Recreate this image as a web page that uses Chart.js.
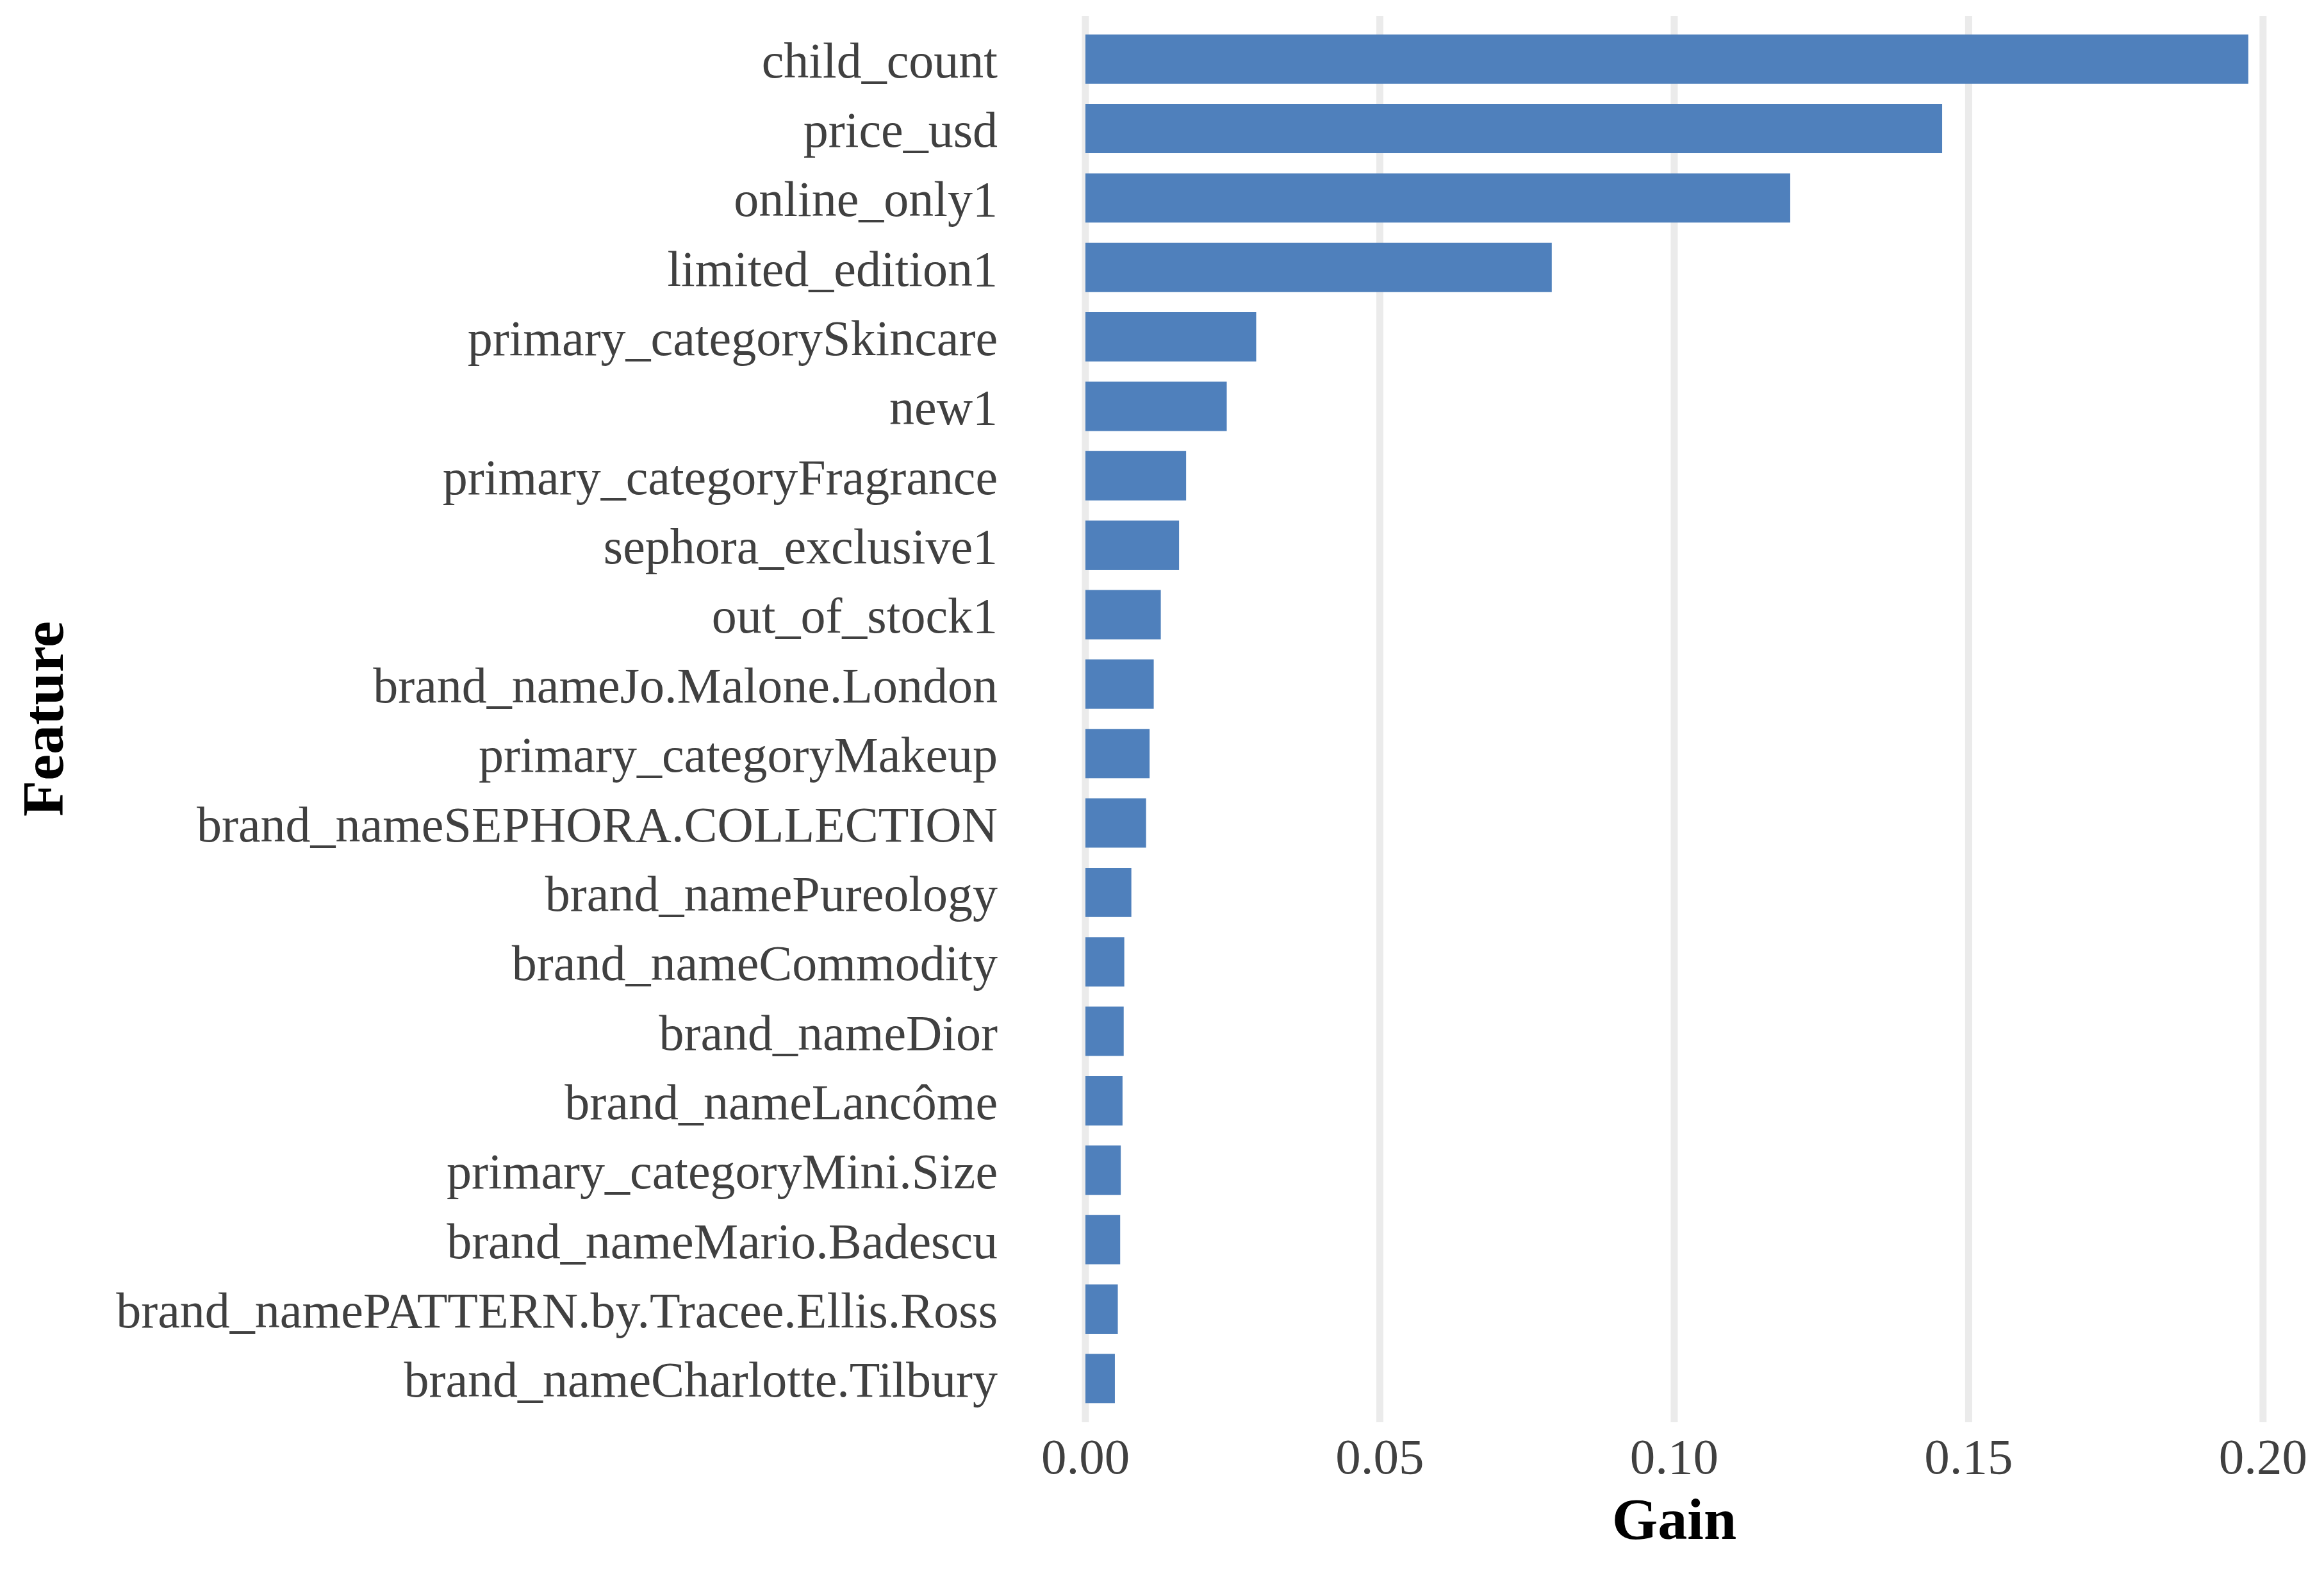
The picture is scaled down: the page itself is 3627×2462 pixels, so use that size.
<!DOCTYPE html>
<html>
<head>
<meta charset="utf-8">
<script src="https://cdn.jsdelivr.net/npm/chart.js@4/dist/chart.umd.min.js"></script>
<style>
  html, body { margin: 0; padding: 0; background: #ffffff; }
  #wrap { width: 3627px; height: 2462px; }
</style>
</head>
<body>
<div id="wrap"><canvas id="c" width="3627" height="2462"></canvas></div>
<script>
const features = [
  "child_count",
  "price_usd",
  "online_only1",
  "limited_edition1",
  "primary_categorySkincare",
  "new1",
  "primary_categoryFragrance",
  "sephora_exclusive1",
  "out_of_stock1",
  "brand_nameJo.Malone.London",
  "primary_categoryMakeup",
  "brand_nameSEPHORA.COLLECTION",
  "brand_namePureology",
  "brand_nameCommodity",
  "brand_nameDior",
  "brand_nameLancôme",
  "primary_categoryMini.Size",
  "brand_nameMario.Badescu",
  "brand_namePATTERN.by.Tracee.Ellis.Ross",
  "brand_nameCharlotte.Tilbury"
];
const gain = [
  0.1975, 0.1455, 0.1197, 0.0792, 0.0290,
  0.0240, 0.0171, 0.0159, 0.0128, 0.0116,
  0.0109, 0.0103, 0.0078, 0.0066, 0.0065,
  0.0063, 0.0060, 0.0059, 0.0055, 0.0050
];
const xTicks = [0.00, 0.05, 0.10, 0.15, 0.20];
const xTitle = "Gain";
const yTitle = "Feature";

const SERIF = "'Liberation Serif', 'Times New Roman', serif";

const extGrid = {
  id: 'extGrid',
  beforeDatasetsDraw(chart) {
    const { ctx, chartArea, scales } = chart;
    const x = scales.x;
    ctx.save();
    ctx.strokeStyle = '#ebebeb';
    ctx.lineWidth = 11;
    xTicks.forEach(v => {
      const px = x.getPixelForValue(v);
      ctx.beginPath();
      ctx.moveTo(px, chartArea.top - 13);
      ctx.lineTo(px, chartArea.bottom + 14);
      ctx.stroke();
    });
    ctx.restore();
  }
};

new Chart(document.getElementById('c'), {
  type: 'bar',
  data: {
    labels: features,
    datasets: [{
      data: gain,
      backgroundColor: '#4f80bc',
      borderWidth: 0,
      categoryPercentage: 1.0,
      barPercentage: 0.71
    }]
  },
  options: {
    indexAxis: 'y',
    responsive: false,
    animation: false,
    devicePixelRatio: 1,
    layout: { padding: { top: 38, right: 92, bottom: 0, left: 0 } },
    plugins: { legend: { display: false }, tooltip: { enabled: false } },
    scales: {
      x: {
        type: 'linear',
        min: 0,
        max: 0.2,
        afterBuildTicks(scale) { scale.ticks = xTicks.map(v => ({ value: v })); },
        afterFit(scale) { scale.height = 257; },
        grid: { display: false, drawTicks: false },
        border: { display: false },
        ticks: {
          padding: 26,
          color: '#404040',
          font: { family: SERIF, size: 79 },
          callback: v => Number(v).toFixed(2),
          maxRotation: 0
        },
        title: {
          display: true,
          text: xTitle,
          color: '#000000',
          font: { family: SERIF, size: 92, weight: 'bold' },
          padding: { top: 0, bottom: 30 }
        }
      },
      y: {
        type: 'category',
        afterFit(scale) {
          scale.width = 1694;
          scale.paddingTop = 0;
          scale.paddingBottom = 0;
        },
        grid: { display: false, drawTicks: false },
        border: { display: false },
        ticks: {
          padding: 137,
          labelOffset: 8,
          color: '#404040',
          font: { family: SERIF, size: 78 },
          autoSkip: false
        },
        title: {
          display: true,
          text: yTitle,
          color: '#000000',
          font: { family: SERIF, size: 92, weight: 'bold' },
          padding: { top: 19, bottom: 0 }
        }
      }
    }
  },
  plugins: [extGrid]
});
</script>
</body>
</html>
